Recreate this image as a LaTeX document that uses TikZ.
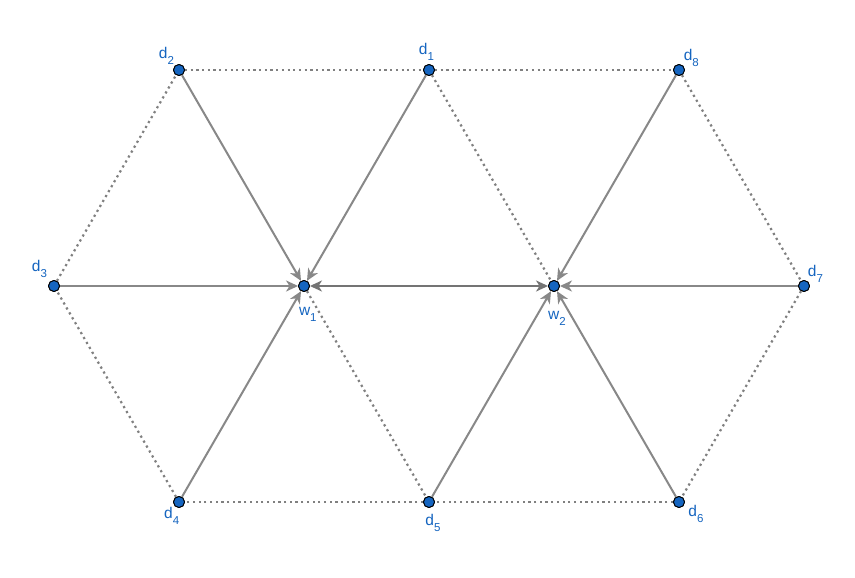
\documentclass[tikz,border=0pt]{standalone}
\usepackage{fontspec}
\setmainfont{Liberation Sans}
\usetikzlibrary{arrows.meta}
\definecolor{ptblue}{RGB}{21,101,192}
\definecolor{lnGray}{RGB}{136,136,136}
\definecolor{dotGray}{RGB}{128,128,128}
\newcommand{\ptlab}[2]{{\fontsize{15.5}{15.5}\selectfont #1}\raisebox{-6pt}{\fontsize{11.5}{11.5}\selectfont #2}}
\begin{document}
\begin{tikzpicture}[x=1pt,y=-1pt,
  pt/.style={circle,fill=ptblue,draw=black,line width=0.9pt,minimum size=11pt,inner sep=0pt},
  lab/.style={text=ptblue,inner sep=0pt,anchor=center},
  arr/.style={draw=lnGray,line width=2pt,-{Stealth[length=12pt,width=11pt,inset=3.5pt]}},
  dualarr/.style={draw=lnGray!85!black,line width=2pt,{Stealth[length=12pt,width=11pt,inset=3.5pt]}-{Stealth[length=12pt,width=11pt,inset=3.5pt]}},
  dotl/.style={draw=dotGray,line width=2.2pt,dash pattern=on 2.2pt off 3.5pt}]
\useasboundingbox (0,0) rectangle (855,578);
\fill[white] (0,0) rectangle (855,578);
% points
\node[pt] (d1) at (429,70) {};
\node[pt] (d2) at (179,70) {};
\node[pt] (d8) at (679,70) {};
\node[pt] (d3) at (54,286) {};
\node[pt] (w1) at (304,286) {};
\node[pt] (w2) at (554,286) {};
\node[pt] (d7) at (804,286) {};
\node[pt] (d4) at (179,502) {};
\node[pt] (d5) at (429,502) {};
\node[pt] (d6) at (679,502) {};
% dotted edges
\path[dotl] (d2) -- (d1);
\path[dotl] (d1) -- (d8);
\path[dotl] (d8) -- (d7);
\path[dotl] (d7) -- (d6);
\path[dotl] (d6) -- (d5);
\path[dotl] (d5) -- (d4);
\path[dotl] (d4) -- (d3);
\path[dotl] (d3) -- (d2);
\path[dotl] (d1) -- (w2);
\path[dotl] (w1) -- (d5);
% arrows
\path[arr] (d2) -- (w1);
\path[arr] (d1) -- (w1);
\path[arr] (d3) -- (w1);
\path[arr] (d4) -- (w1);
\path[arr] (d8) -- (w2);
\path[arr] (d7) -- (w2);
\path[arr] (d5) -- (w2);
\path[arr] (d6) -- (w2);
\path[dualarr] (w1) -- (w2);
% redraw points on top
\foreach \x/\y in {429/70,179/70,679/70,54/286,304/286,554/286,804/286,179/502,429/502,679/502}
  \node[pt] at (\x,\y) {};
% labels
\node[lab] (l1) at (426.5,52) {\ptlab{d}{1}};
\node[lab] (l2) at (166.5,56) {\ptlab{d}{2}};
\node[lab] (l8) at (691.3,58) {\ptlab{d}{8}};
\node[lab] (l3) at (39.5,269) {\ptlab{d}{3}};
\node[lab] (l7) at (815.5,274) {\ptlab{d}{7}};
\node[lab] (l4) at (171.7,516) {\ptlab{d}{4}};
\node[lab] (l5) at (433,522.5) {\ptlab{d}{5}};
\node[lab] (l6) at (696,514) {\ptlab{d}{6}};
\node[lab] (lw1) at (307.8,314.7) {\ptlab{w}{1}};
\node[lab] (lw2) at (557,318.3) {\ptlab{w}{2}};
\end{tikzpicture}
\end{document}
